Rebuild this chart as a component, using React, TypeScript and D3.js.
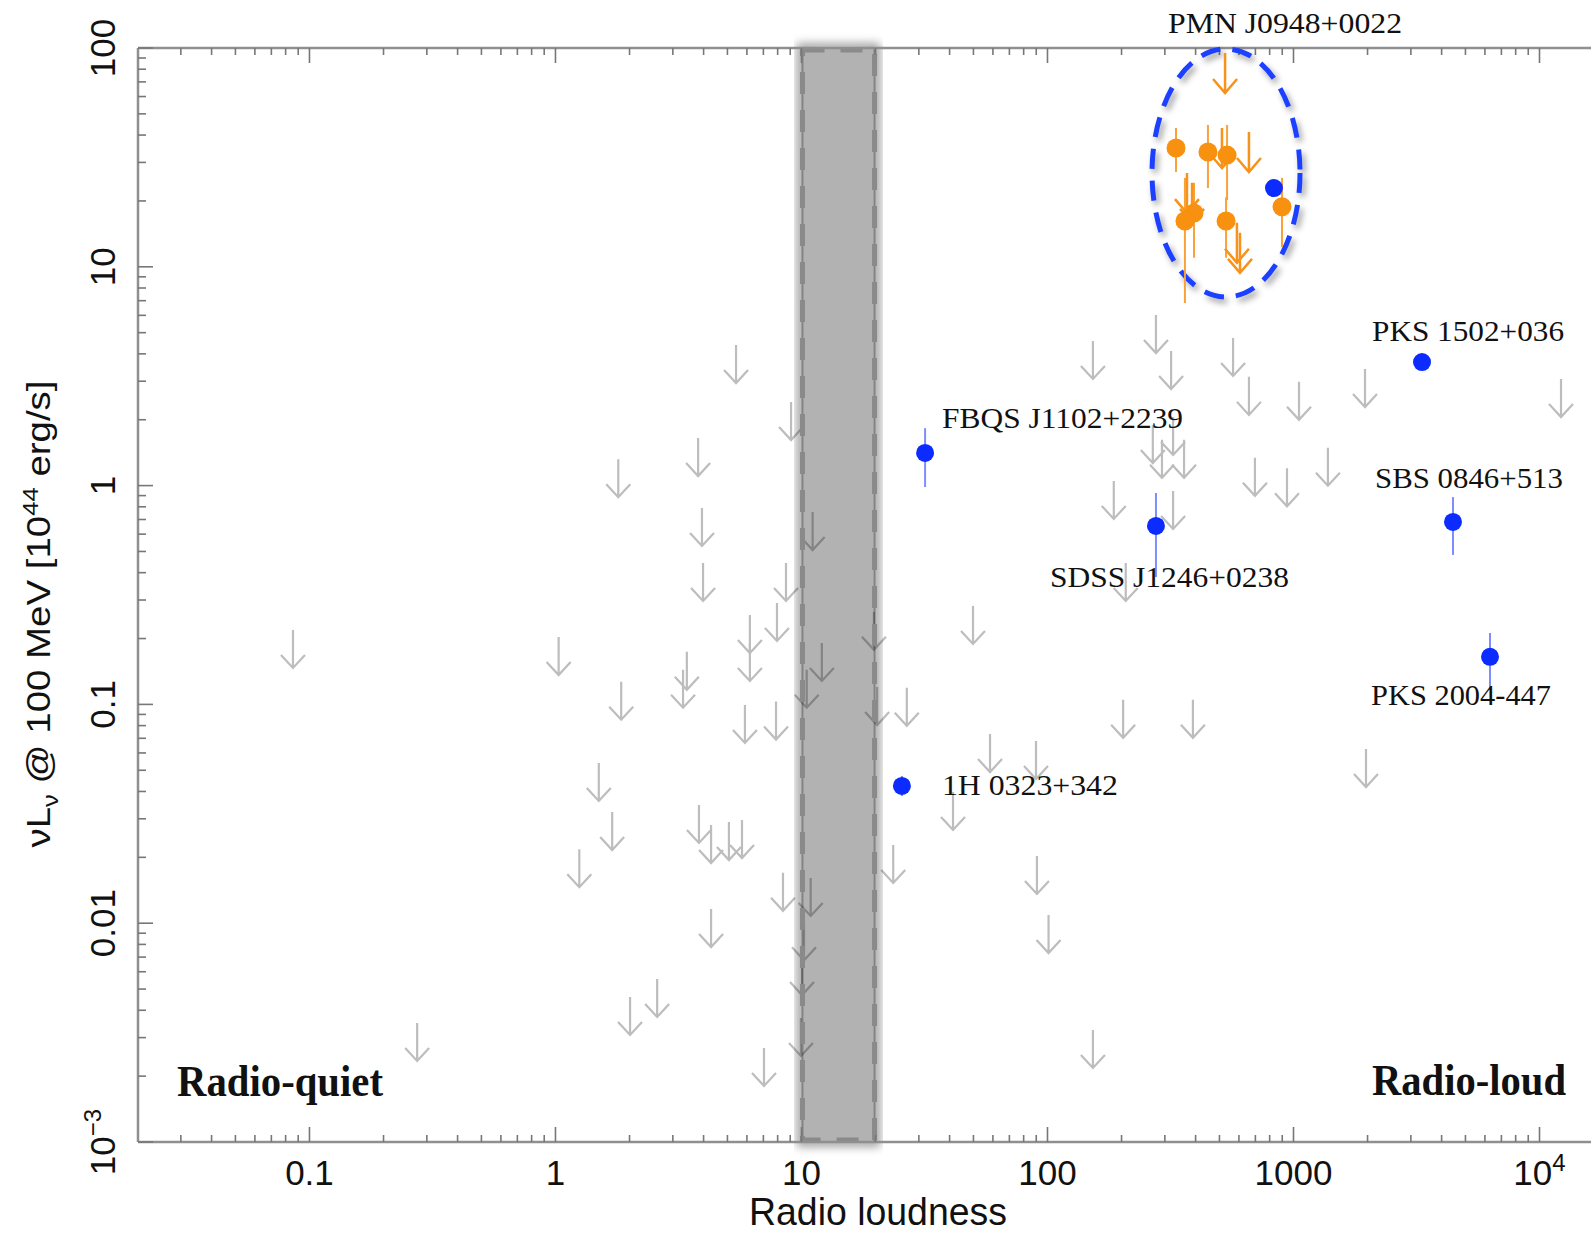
import React from 'react';
import * as d3 from 'd3';

const W = 1591;
const H = 1234;

// ---------- data ----------
const xTickValues = [0.1, 1, 10, 100, 1000, 10000];
const xTickLabels = ['0.1', '1', '10', '100', '1000', '10^4'];
const yTickValues = [100, 10, 1, 0.1, 0.01, 0.001];
const yTickLabels = ['100', '10', '1', '0.1', '0.01', '10^-3'];

// gray upper limits: [radio loudness, vL_v upper limit]
const grayLimits: [number, number][] = [
  [0.0857, 0.219], [0.274, 0.0035], [1.03, 0.203], [1.25, 0.0218], [1.5, 0.054],
  [1.7, 0.0322], [1.8, 1.32], [1.85, 0.127], [2.01, 0.0046], [2.59, 0.00556],
  [3.3, 0.144], [3.42, 0.174], [3.8, 1.65], [3.83, 0.0347], [3.94, 0.79],
  [3.98, 0.443], [4.29, 0.0281], [4.29, 0.0116], [5.07, 0.029], [5.42, 4.39],
  [5.73, 0.0296], [5.89, 0.0994], [6.17, 0.256], [6.17, 0.191], [7.04, 0.00269],
  [7.88, 0.103], [7.95, 0.291], [8.41, 0.017], [8.65, 0.443], [9.07, 2.41],
  [9.95, 0.00369], [10.05, 0.007], [10.24, 0.0101], [10.5, 0.144], [10.9, 0.0161],
  [11.1, 0.757], [12.1, 0.191], [19.7, 0.265], [20.3, 0.12], [23.6, 0.0228],
  [26.8, 0.119], [41.3, 0.0398], [49.8, 0.282], [58.4, 0.0732], [89.8, 0.068],
  [90.6, 0.0203], [101, 0.0109], [153, 4.58], [153, 0.00325], [186, 1.05],
  [203, 0.105], [208, 0.443], [268, 1.89], [276, 6.02], [292, 1.62],
  [318, 4.12], [324, 2.06], [324, 0.945], [359, 1.62], [390, 0.105],
  [568, 4.73], [659, 3.14], [697, 1.34], [941, 1.2], [1053, 2.98],
  [1380, 1.49], [1953, 3.41], [1971, 0.0625], [12230, 3.07],
];

// orange detections (PMN J0948+0022 epochs): [R, L, low, high]
const orangePoints: [number, number, number, number][] = [
  [333, 34.9, 27.1, 43.1], [449, 33.5, 22.9, 44.5], [537, 32.4, 20.2, 44.5],
  [898, 18.8, 12.3, 25.5], [362, 16.2, 6.83, 25.5], [394, 17.6, 11.0, 24.2],
  [532, 16.2, 11.0, 20.8],
];
// orange upper limits: [R, L]
const orangeLimits: [number, number][] = [
  [527, 94.9], [512, 43.1], [659, 41.3], [369, 26.8], [387, 24.2], [589, 15.9], [606, 14.3],
];

// blue detections
const blueNames = ['PMN J0948+0022', 'PKS 1502+036', 'SBS 0846+513', 'PKS 2004-447', 'FBQS J1102+2239', 'SDSS J1246+0238', '1H 0323+342'];
const blueR = [833, 3330, 4449, 6293, 31.8, 276, 25.6];
const blueL = [22.9, 3.67, 0.682, 0.165, 1.41, 0.654, 0.0424];
const blueLo = [22.9, 3.67, 0.482, 0.119, 0.985, 0.382, 0.0381];
const blueHi = [22.9, 3.67, 0.886, 0.212, 1.83, 0.925, 0.0471];

// radio-loudness boundary band
const bandR = [10, 20];
// ellipse around PMN J0948+0022: R extent, L extent
const ellipseR = [266, 1063];
const ellipseL = [7.28, 99];

// label layout (offset from point in px, and width)
const labelLayout: Record<string, { dx: number; dy: number; w: number }> = {
  'PKS 1502+036': { dx: -50, dy: -21, w: 192 },
  'SBS 0846+513': { dx: -78, dy: -34, w: 188 },
  'PKS 2004-447': { dx: -119, dy: 48, w: 180 },
  'FBQS J1102+2239': { dx: 17, dy: -25, w: 241 },
  'SDSS J1246+0238': { dx: -106, dy: 61, w: 239 },
  '1H 0323+342': { dx: 40, dy: 9, w: 176 },
};

// ---------- scales ----------
const x0 = 138, x1 = 1591, y0 = 48, y1 = 1142;
const xs = d3.scaleLog().domain([0.02009, 16193]).range([x0, x1]);
const ys = d3.scaleLog().domain([0.001, 100]).range([y1, y0]);

const SANS = '"Liberation Sans", Arial, Helvetica, sans-serif';
const SERIF = '"Liberation Serif", "Times New Roman", serif';

function minorTicks(domain: number[]) {
  const out: { v: number; major: boolean }[] = [];
  for (let e = -3; e <= 5; e++) {
    for (let k = 1; k <= 9; k++) {
      const v = k * Math.pow(10, e);
      if (v >= domain[0] * 0.9999 && v <= domain[1] * 1.0001) out.push({ v, major: k === 1 });
    }
  }
  return out;
}

function arrowPath(x: number, y: number, len: number, hw: number, hh: number) {
  const yt = y + len;
  return `M${x},${y}L${x},${yt}M${x - hw},${yt - hh}L${x},${yt}L${x + hw},${yt - hh}`;
}

function Label({ s }: { s: string }) {
  if (s.includes('^')) {
    const [b, e] = s.split('^');
    return (
      <>
        {b}
        <tspan dy={-14} fontSize={24}>{e.replace('-', '\u2212')}</tspan>
      </>
    );
  }
  return <>{s}</>;
}

export default function App() {
  const xt = minorTicks(xs.domain() as number[]);
  const yt = minorTicks(ys.domain() as number[]);
  const bx0 = xs(bandR[0]);
  const bx1 = xs(bandR[1]);
  const ecx = (xs(ellipseR[0]) + xs(ellipseR[1])) / 2;
  const erx = (xs(ellipseR[1]) - xs(ellipseR[0])) / 2;
  const ecy = (ys(ellipseL[0]) + ys(ellipseL[1])) / 2;
  const ery = (ys(ellipseL[0]) - ys(ellipseL[1])) / 2;

  return (
    <div style={{ position: 'absolute', left: 0, top: 0 }}>
      <svg width={W} height={H} viewBox={`0 0 ${W} ${H}`} style={{ display: 'block', background: '#fff' }}>
        <defs>
          <filter id="blurHalo" x="-50%" y="-5%" width="200%" height="110%">
            <feGaussianBlur stdDeviation="5" />
          </filter>
          <filter id="ellShadow" x="-20%" y="-20%" width="140%" height="140%">
            <feDropShadow dx="3" dy="4" stdDeviation="3" floodColor="#000" floodOpacity="0.4" />
          </filter>
          <mask id="outsideBand">
            <rect x={0} y={0} width={W} height={H} fill="#fff" />
            <rect x={bx0 + 2} y={y0} width={bx1 - bx0 - 4} height={y1 - y0} fill="#000" />
          </mask>
          <clipPath id="plotClip">
            <rect x={x0} y={y0} width={x1 - x0} height={y1 - y0} />
          </clipPath>
        </defs>

        {/* gray upper limits */}
        <g stroke="#bdbdbd" strokeWidth={2.2} fill="none" clipPath="url(#plotClip)">
          {grayLimits.map(([r, l], i) => (
            <path key={i} d={arrowPath(xs(r), ys(l), 38, 12, 13)} />
          ))}
        </g>

        {/* band */}
        <g mask="url(#outsideBand)">
          <rect x={bx0} y={y0} width={bx1 - bx0} height={y1 - y0} fill="none" stroke="#000" strokeOpacity={0.4} strokeWidth={9} filter="url(#blurHalo)" />
        </g>
        <rect x={bx0} y={y0} width={bx1 - bx0} height={y1 - y0} fill="#000" fillOpacity={0.3} />
        <rect x={bx0 + 1} y={y0 + 2} width={bx1 - bx0 - 2} height={y1 - y0 - 4} fill="none" stroke="#8a8a8a" strokeWidth={5} strokeDasharray="22 16" />

        {/* axes */}
        <g stroke="#8f8f8f" fill="none">
          <line x1={x0} y1={y0} x2={x1} y2={y0} strokeWidth={2.5} />
          <line x1={x0} y1={y1} x2={x1} y2={y1} strokeWidth={2.5} />
          <line x1={x0} y1={y0} x2={x0} y2={y1} strokeWidth={2.5} />
          {xt.map((t, i) => {
            const x = xs(t.v);
            const L = t.major ? 15 : 7;
            return (
              <g key={i} strokeWidth={1.6} stroke="#777">
                <line x1={x} x2={x} y1={y1} y2={y1 - L} />
                <line x1={x} x2={x} y1={y0} y2={y0 + L} />
              </g>
            );
          })}
          {yt.map((t, i) => {
            const y = ys(t.v);
            const L = t.major ? 15 : 8;
            return <line key={i} x1={x0} x2={x0 + L} y1={y} y2={y} strokeWidth={1.6} stroke="#777" />;
          })}
        </g>

        {/* tick labels */}
        <g fontFamily={SANS} fontSize={35} fill="#111">
          {xTickValues.map((v, i) => (
            <text key={i} x={xs(v)} y={1185} textAnchor="middle">
              <Label s={xTickLabels[i]} />
            </text>
          ))}
          {yTickValues.map((v, i) => (
            <text key={i} transform={`translate(115,${ys(v)}) rotate(-90)`} textAnchor="middle">
              <Label s={yTickLabels[i]} />
            </text>
          ))}
        </g>

        {/* axis titles */}
        <text x={878} y={1225} textAnchor="middle" fontFamily={SANS} fontSize={39} textLength={258} lengthAdjust="spacingAndGlyphs" fill="#111">
          Radio loudness
        </text>
        <text transform="translate(50,614) rotate(-90)" textAnchor="middle" fontFamily={SANS} fontSize={33} textLength={467} lengthAdjust="spacingAndGlyphs" fill="#111">
          νL<tspan dy={8} fontSize={22}>ν</tspan><tspan dy={-8}> @ 100 MeV [10</tspan><tspan dy={-12} fontSize={22}>44</tspan><tspan dy={12}> erg/s]</tspan>
        </text>

        {/* ellipse */}
        <ellipse cx={ecx} cy={ecy} rx={erx} ry={ery} fill="none" stroke="#1f3fff" strokeWidth={5} strokeDasharray="20 12" filter="url(#ellShadow)" />

        {/* orange error bars, limits, points */}
        <g stroke="#f9a23a" strokeWidth={2}>
          {orangePoints.map(([r, , lo, hi], i) => (
            <line key={i} x1={xs(r)} x2={xs(r)} y1={ys(lo)} y2={ys(hi)} />
          ))}
        </g>
        <g stroke="#f7921a" strokeWidth={2.5} fill="none">
          {orangeLimits.map(([r, l], i) => (
            <path key={i} d={arrowPath(xs(r), ys(l), 40, 12, 14)} />
          ))}
        </g>
        <g fill="#f7910f">
          {orangePoints.map(([r, l], i) => (
            <circle key={i} cx={xs(r)} cy={ys(l)} r={9.5} />
          ))}
        </g>

        {/* blue detections */}
        <g stroke="#7e8dff" strokeWidth={2}>
          {blueR.map((r, i) => (
            <line key={i} x1={xs(r)} x2={xs(r)} y1={ys(blueLo[i])} y2={ys(blueHi[i])} />
          ))}
        </g>
        <g fill="#0b2bff">
          {blueR.map((r, i) => (
            <circle key={i} cx={xs(r)} cy={ys(blueL[i])} r={9} />
          ))}
        </g>

        {/* labels */}
        <g fontFamily={SERIF} fontSize={30} fill="#111">
          {blueNames.map((n, i) => {
            const lay = labelLayout[n];
            if (!lay) return null;
            return (
              <text key={n} x={xs(blueR[i]) + lay.dx} y={ys(blueL[i]) + lay.dy} textLength={lay.w} lengthAdjust="spacingAndGlyphs">
                {n}
              </text>
            );
          })}
          <text x={ecx - 58} y={ecy - ery - 16} textLength={234} lengthAdjust="spacingAndGlyphs">
            {blueNames[0]}
          </text>
        </g>
        <g fontFamily={SERIF} fontSize={44} fontWeight="bold" fill="#111">
          <text x={177} y={1096} textLength={206} lengthAdjust="spacingAndGlyphs">Radio-quiet</text>
          <text x={1372} y={1095} textLength={194} lengthAdjust="spacingAndGlyphs">Radio-loud</text>
        </g>
      </svg>
    </div>
  );
}
